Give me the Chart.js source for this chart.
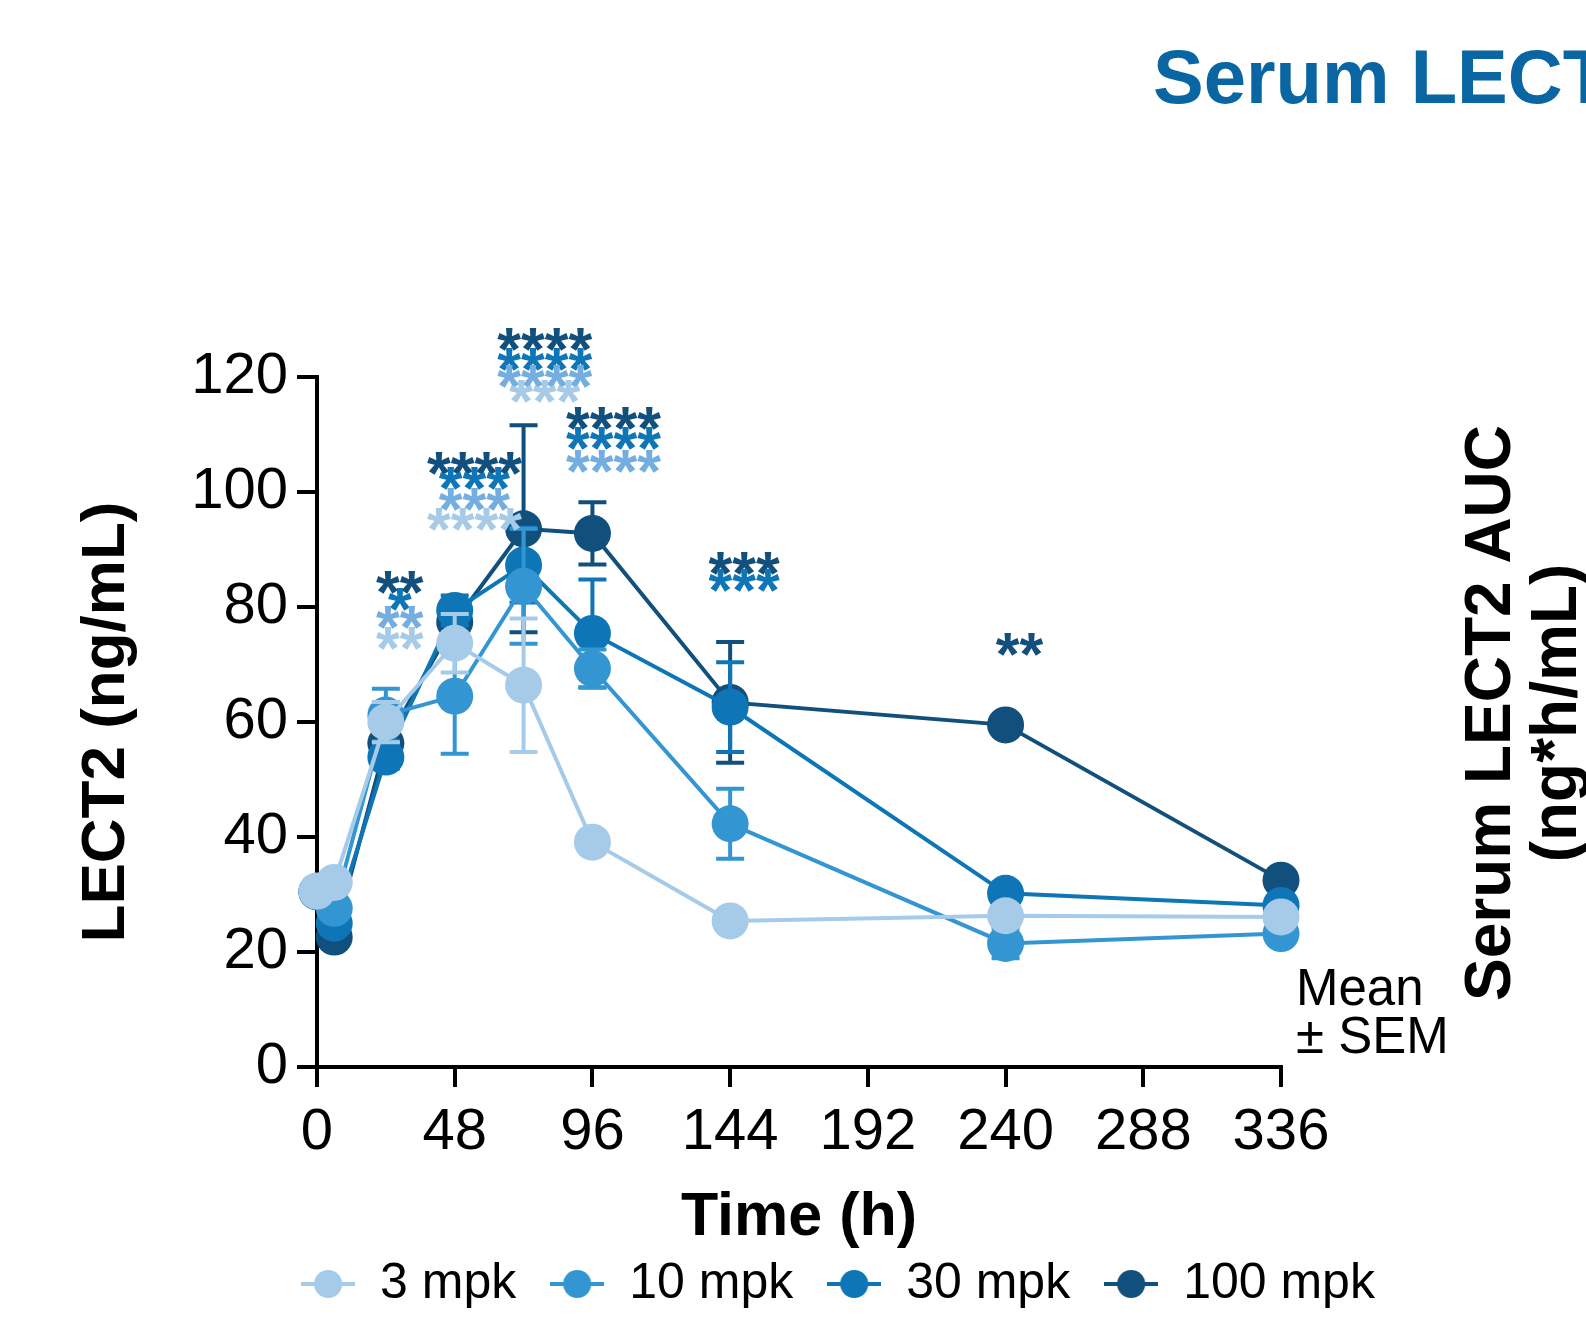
<!DOCTYPE html>
<html>
<head>
<meta charset="utf-8">
<script src="https://cdn.jsdelivr.net/npm/chart.js@4.4.1/dist/chart.umd.min.js"></script>
<style>
  html, body { margin: 0; padding: 0; background: #fff; }
  #wrap { width: 1586px; height: 1337px; }
</style>
</head>
<body>
<div id="wrap"><canvas id="myChart" width="1586" height="1337"></canvas></div>
<script>
// sampling times (h) and group means / SEM
const timeHours = [0, 6, 24, 48, 72, 96, 144, 240, 336];
const doseLabels = ['3 mpk', '10 mpk', '30 mpk', '100 mpk'];

const mean3   = [30.6, 32.1, 60.0, 73.7, 66.4, 39.1, 25.4, 26.3, 26.1];
const mean10  = [30.5, 27.6, 61.2, 64.5, 83.6, 69.3, 42.3, 21.5, 23.2];
const mean30  = [30.5, 25.0, 53.9, 79.4, 87.3, 75.4, 62.6, 30.2, 28.1];
const mean100 = [30.5, 22.6, 56.3, 77.4, 93.6, 92.8, 63.4, 59.5, 32.5];

const sem3   = [1, 1, 3.5, 5.1, 11.6, 1, 1, 1, 1];
const sem10  = [1, 1, 4.6, 10, 10, 3.3, 6.1, 2.6, 1];
const sem30  = [1, 1, 2, 2.6, 6.5, 9.4, 7.8, 1, 1];
const sem100 = [1, 1, 2, 2.5, 18, 5.4, 10.5, 1, 1];

const xTickValues = [0, 48, 96, 144, 192, 240, 288, 336];
const yTickValues = [0, 20, 40, 60, 80, 100, 120];

// significance stars: centre time, text, dose group (0..3), level in ng/mL
const starTime  = [24, 24, 24, 24, 50, 50, 50, 50, 74.5, 74.5, 74.5, 74.5, 98.5, 98.5, 98.5, 144, 144, 240];
const starText  = ['**', '*', '**', '**', '****', '***', '***', '****', '****', '****', '****', '***',
                   '****', '****', '****', '***', '***', '**'];
const starGroup = [3, 2, 1, 0, 3, 2, 1, 0, 3, 2, 1, 0, 3, 2, 1, 3, 2, 3];
const starLevel = [84.6, 81.5, 78.5, 74.7, 105.2, 102.6, 98.9, 95.4, 126.7, 123.3, 120.3, 117.7,
                   113, 109.6, 105.5, 87.8, 84.9, 73.7];

const means = [mean3, mean10, mean30, mean100];
const sems = [sem3, sem10, sem30, sem100];
const doseColors = ['#a6cbe9', '#3396d3', '#0e76b6', '#114f7d'];
const starColors = ['#a6cbe9', '#74ade0', '#0e76b6', '#114f7d'];

const FONT = '"Liberation Sans", Arial, Helvetica, sans-serif';
Chart.defaults.font.family = FONT;
Chart.defaults.color = '#000';

function legendIcon(color) {
    let c = document.createElement('canvas');
    c.width = 54; c.height = 32;
    let g = c.getContext('2d');
    g.strokeStyle = color; g.lineWidth = 4;
    g.beginPath(); g.moveTo(0, 16); g.lineTo(54, 16); g.stroke();
    g.fillStyle = color;
    g.beginPath(); g.arc(27, 16, 14, 0, Math.PI * 2); g.fill();
    return c;
}
let legendIcons = doseColors.map(legendIcon);

// error bars, drawn just before each dataset so its own markers sit on top
var errorBarPlugin = {
    id: 'errorBars',
    beforeDatasetDraw: function (chart, args) {
        let ctx = chart.ctx;
        let yScale = chart.scales.y;
        let i = args.index;
        let meta = args.meta;
        ctx.save();
        ctx.strokeStyle = doseColors[i];
        ctx.lineWidth = 4;
        for (let k = 0; k < meta.data.length; k++) {
            let x = meta.data[k].x;
            let top = yScale.getPixelForValue(means[i][k] + sems[i][k]);
            let bot = yScale.getPixelForValue(means[i][k] - sems[i][k]);
            ctx.beginPath();
            ctx.moveTo(x, top); ctx.lineTo(x, bot);
            ctx.moveTo(x - 14, top); ctx.lineTo(x + 14, top);
            ctx.moveTo(x - 14, bot); ctx.lineTo(x + 14, bot);
            ctx.stroke();
        }
        ctx.restore();
    }
};

var starsPlugin = {
    id: 'stars',
    afterDatasetsDraw: function (chart) {
        let ctx = chart.ctx;
        let xs = chart.scales.x, ys = chart.scales.y;
        ctx.save();
        ctx.font = 'bold 61px ' + FONT;
        ctx.textAlign = 'center';
        ctx.textBaseline = 'alphabetic';
        for (let k = 0; k < starText.length; k++) {
            ctx.fillStyle = starColors[starGroup[k]];
            let x = xs.getPixelForValue(starTime[k]) + 14;
            let y = ys.getPixelForValue(starLevel[k]) + 32;
            ctx.fillText(starText[k], x, y);
        }
        ctx.restore();
    }
};

var textPlugin = {
    id: 'texts',
    afterDraw: function (chart) {
        let ctx = chart.ctx;
        ctx.save();
        // panel title (cut at the page edge, like the source)
        ctx.fillStyle = '#0a66a2';
        ctx.font = 'bold 76px ' + FONT;
        ctx.textAlign = 'left';
        ctx.textBaseline = 'alphabetic';
        ctx.fillText('Serum LECT2 AUC', 1153, 103);

        // next panel's y title
        ctx.fillStyle = '#000';
        ctx.font = 'bold 64px ' + FONT;
        ctx.textAlign = 'center';
        ctx.textBaseline = 'middle';
        ctx.save();
        ctx.translate(1492, 713); ctx.rotate(-Math.PI / 2);
        ctx.fillText('Serum LECT2 AUC', 0, 0);
        ctx.restore();
        ctx.save();
        ctx.translate(1558, 713); ctx.rotate(-Math.PI / 2);
        ctx.fillText('(ng*h/mL)', 0, 0);
        ctx.restore();

        ctx.font = '51px ' + FONT;
        ctx.textAlign = 'left';
        ctx.fillText('Mean', 1296, 991);
        ctx.fillText('\u00b1 SEM', 1296, 1039);
        ctx.restore();
    }
};

Chart.register(errorBarPlugin, starsPlugin, textPlugin);

let datasets = doseLabels.map(function (label, i) {
    return {
        label: label,
        data: timeHours.map((t, k) => ({ x: t, y: means[i][k] })),
        borderColor: doseColors[i],
        backgroundColor: doseColors[i],
        pointBackgroundColor: doseColors[i],
        pointBorderWidth: 0,
        pointRadius: 18.5,
        pointHoverRadius: 18.5,
        borderWidth: 4,
        tension: 0,
        clip: false
    };
});

let ctx = document.getElementById('myChart').getContext('2d');
let myChart = new Chart(ctx, {
    type: 'line',
    data: { datasets: datasets },
    options: {
        responsive: false,
        animation: false,
        layout: { padding: { left: 90, right: 0, top: 377, bottom: 18 } },
        plugins: {
            tooltip: { enabled: false },
            legend: {
                position: 'bottom',
                labels: {
                    usePointStyle: true,
                    pointStyleWidth: 54,
                    padding: 34,
                    color: '#000',
                    font: { size: 50 },
                    generateLabels: function (chart) {
                        return chart.data.datasets.map(function (ds, i) {
                            return {
                                text: ds.label,
                                pointStyle: legendIcons[i],
                                fillStyle: ds.borderColor,
                                strokeStyle: ds.borderColor,
                                lineWidth: 0,
                                hidden: false,
                                datasetIndex: i,
                                fontColor: '#000'
                            };
                        });
                    }
                }
            }
        },
        scales: {
            x: {
                type: 'linear',
                min: 0,
                max: 336,
                afterBuildTicks: function (s) { s.ticks = xTickValues.map(v => ({ value: v })); },
                afterFit: function (s) { s.height = 158; },
                grid: { drawOnChartArea: false, drawTicks: true, tickLength: 20, color: '#000', lineWidth: 4 },
                border: { display: true, color: '#000', width: 4 },
                ticks: { font: { size: 58 }, color: '#000', padding: 11, maxRotation: 0 },
                title: {
                    display: true,
                    text: 'Time (h)',
                    color: '#000',
                    font: { size: 61, weight: 'bold', lineHeight: 0.2 },
                    padding: { top: 0, bottom: 1 }
                }
            },
            y: {
                min: 0,
                max: 120,
                afterBuildTicks: function (s) { s.ticks = yTickValues.map(v => ({ value: v })); },
                afterFit: function (s) { s.width = 227; },
                grid: { drawOnChartArea: false, drawTicks: true, tickLength: 20, color: '#000', lineWidth: 4 },
                border: { display: true, color: '#000', width: 4 },
                ticks: { font: { size: 58 }, color: '#000', padding: 9 },
                title: {
                    display: true,
                    text: 'LECT2 (ng/mL)',
                    color: '#000',
                    font: { size: 62, weight: 'bold', lineHeight: 0.5 },
                    padding: { top: 1, bottom: 0 }
                }
            },
            yRight: {
                position: 'right',
                display: true,
                afterFit: function (s) { s.width = 305; },
                grid: { display: false, drawTicks: false },
                border: { display: false },
                ticks: { display: false }
            }
        }
    }
});
</script>
</body>
</html>
